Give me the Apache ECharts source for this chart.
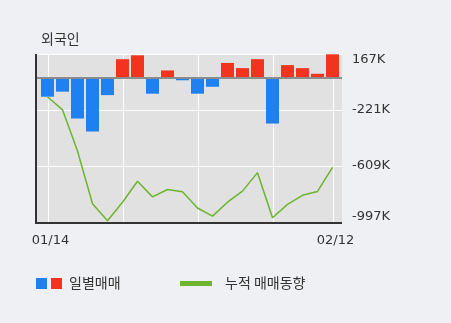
<!DOCTYPE html>
<html>
<head>
<meta charset="utf-8">
<script src="https://cdn.jsdelivr.net/npm/echarts@6/dist/echarts.min.js"></script>
<style>
  html, body { margin: 0; padding: 0; background: #eef0f4; }
  #chart { width: 451px; height: 323px; }
</style>
</head>
<body>
<div id="chart"></div>
<script>
// Trading days
const categories = ['01/14','01/15','01/16','01/17','01/20','01/21','01/22','01/23','01/28','01/29',
                    '01/30','01/31','02/03','02/04','02/05','02/06','02/07','02/10','02/11','02/12'];
// Daily net buying (shares)
const dailyNet = [-129000,-94000,-280000,-370000,-118000,131000,158000,-108000,53000,-15000,
                  -108000,-60000,105000,69000,131000,-315000,90000,69000,30000,165000];
// Cumulative net buying (shares)
const cumulativeNet = [-129000,-220000,-505000,-870000,-988000,-860000,-715000,-823000,-772000,-788000,
                       -900000,-956000,-860000,-783000,-655000,-968000,-875000,-812000,-785000,-618000];
// Value axis ticks and their labels
const yTicks = [-997000, -609000, -221000, 167000];
const yTickLabels = ['-997K', '-609K', '-221K', '167K'];
// Categories that get a date label / a vertical guide line
const xLabelIndices = [0, 19];
const vGuideIndices = [0, 5, 10, 15, 19];

const BLUE = '#1f80f2', RED = '#f2331f', GREEN = '#6cb52d';
const NUM_FONT = 'DejaVu Sans';
const KR_FONT = 'Noto Sans CJK KR';

const chart = echarts.init(document.getElementById('chart'));

function tickLabel(v) {
  const i = yTicks.findIndex(t => Math.abs(t - v) < 1);
  if (i < 0) return '';
  if (i === yTicks.length - 1) return '{top|' + yTickLabels[i] + '}';
  if (i === 0) return '{bot|' + yTickLabels[i] + '}';
  return yTickLabels[i];
}

chart.setOption({
  animation: false,
  backgroundColor: '#eef0f4',
  title: {
    text: '외국인', left: 36, top: 27,
    textStyle: { fontFamily: KR_FONT, fontSize: 14, fontWeight: 'normal', color: '#333' }
  },
  grid: { left: 40, right: 111, top: 54, bottom: 101 },
  xAxis: {
    type: 'category',
    data: categories,
    axisLine: { show: false },
    axisTick: { show: false },
    splitLine: { show: false },
    axisLabel: {
      interval: (idx) => xLabelIndices.includes(idx),
      margin: 12,
      padding: [0, 0, 0, 6],
      fontFamily: NUM_FONT, fontSize: 13, color: '#333'
    }
  },
  yAxis: {
    type: 'value',
    position: 'right',
    min: yTicks[0],
    max: yTicks[yTicks.length - 1],
    interval: yTicks[1] - yTicks[0],
    axisLine: { show: false },
    axisTick: { show: false },
    splitLine: { show: false },
    axisLabel: {
      margin: 12,
      formatter: tickLabel,
      fontFamily: NUM_FONT, fontSize: 13, color: '#333',
      rich: {
        top: { fontFamily: NUM_FONT, fontSize: 13, color: '#333', padding: [12, 0, 0, 0] },
        bot: { fontFamily: NUM_FONT, fontSize: 13, color: '#333', padding: [0, 0, 10, 0] }
      }
    }
  },
  series: [
    {
      name: '일별매매',
      type: 'bar',
      barWidth: 13,
      z: 3,
      data: dailyNet.map(v => ({ value: v, itemStyle: { color: v >= 0 ? RED : BLUE } }))
    },
    {
      name: '누적 매매동향',
      type: 'line',
      z: 4,
      symbol: 'none',
      lineStyle: { color: GREEN, width: 1.5 },
      data: cumulativeNet
    }
  ]
});

// Plot frame, guides and legend, placed from the axes' own scales
const X0 = 36, X1 = 342;
const yTop = chart.convertToPixel({ yAxisIndex: 0 }, yTicks[yTicks.length - 1]);
const yBot = chart.convertToPixel({ yAxisIndex: 0 }, yTicks[0]);
const yZero = chart.convertToPixel({ yAxisIndex: 0 }, 0);

const g = [];
g.push({ type: 'rect', z: -10, silent: true,
  shape: { x: X0, y: yTop, width: X1 - X0, height: yBot - yTop },
  style: { fill: '#e1e1e1' } });
yTicks.slice(1).forEach(t => {
  const y = Math.round(chart.convertToPixel({ yAxisIndex: 0 }, t)) + 0.5;
  g.push({ type: 'line', z: -5, silent: true,
    shape: { x1: X0, y1: y, x2: X1, y2: y },
    style: { stroke: '#ffffff', lineWidth: 1 } });
});
vGuideIndices.forEach(i => {
  const x = Math.round(chart.convertToPixel({ xAxisIndex: 0 }, categories[i])) + 0.5;
  g.push({ type: 'line', z: -5, silent: true,
    shape: { x1: x, y1: yTop, x2: x, y2: yBot },
    style: { stroke: '#ffffff', lineWidth: 1 } });
});
g.push({ type: 'line', z: 20, silent: true,
  shape: { x1: X0, y1: yZero, x2: X1, y2: yZero },
  style: { stroke: '#8c8c8c', lineWidth: 2 } });
g.push({ type: 'line', z: 20, silent: true,
  shape: { x1: X0, y1: yTop, x2: X0, y2: yBot + 2 },
  style: { stroke: '#333333', lineWidth: 2 } });
g.push({ type: 'line', z: 20, silent: true,
  shape: { x1: X0, y1: yBot + 1, x2: X1, y2: yBot + 1 },
  style: { stroke: '#333333', lineWidth: 2 } });

// Legend
const LY = 283;
g.push({ type: 'rect', silent: true, shape: { x: 36, y: LY - 5, width: 11, height: 11 }, style: { fill: BLUE } });
g.push({ type: 'rect', silent: true, shape: { x: 51, y: LY - 5, width: 11, height: 11 }, style: { fill: RED } });
g.push({ type: 'text', silent: true, x: 69, y: LY,
  style: { text: '일별매매', fontFamily: KR_FONT, fontSize: 14, fill: '#333', verticalAlign: 'middle', align: 'left' } });
g.push({ type: 'rect', silent: true, shape: { x: 180, y: LY - 2, width: 32, height: 5 }, style: { fill: GREEN } });
g.push({ type: 'text', silent: true, x: 225, y: LY,
  style: { text: '누적 매매동향', fontFamily: KR_FONT, fontSize: 14, fill: '#333', verticalAlign: 'middle', align: 'left' } });

chart.setOption({ graphic: g });
</script>
</body>
</html>
